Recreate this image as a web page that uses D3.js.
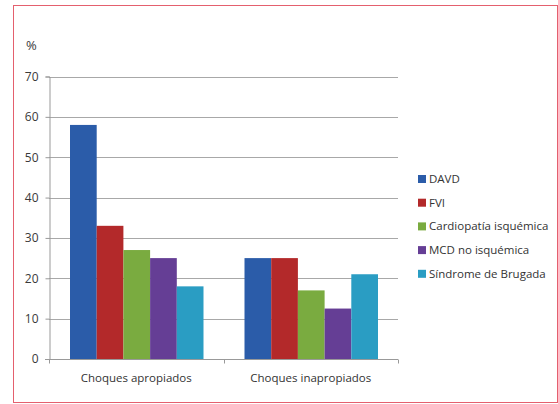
<!DOCTYPE html>
<html>
<head>
<meta charset="utf-8">
<script src="https://cdn.jsdelivr.net/npm/d3@7"></script>
<style>
  body { margin: 0; background: #fff; }
  svg text { font-family: "Open Sans", "Noto Sans", sans-serif; fill: #333; }
</style>
</head>
<body>
<div id="chart"></div>
<script>
// data
var categories = ["Choques apropiados", "Choques inapropiados"];
var seriesNames = ["DAVD", "FVI", "Cardiopatía isquémica", "MCD no isquémica", "Síndrome de Brugada"];
var davd = [58, 25];
var fvi = [33, 25];
var cardiopatia = [27, 17];
var mcd = [25, 12.5];
var brugada = [18, 21];
var yTicks = [0, 10, 20, 30, 40, 50, 60, 70];

var colors = ["#2b5ca9", "#b3292a", "#7aab40", "#653e95", "#2a9dc3"];
var seriesValues = [davd, fvi, cardiopatia, mcd, brugada];

var w = 558, h = 404;
var svg = d3.select("#chart").append("svg")
	.attr("width", w)
	.attr("height", h);

// outer frame
svg.append("rect")
	.attr("x", 13.5).attr("y", 5.5)
	.attr("width", 544).attr("height", 397)
	.style("fill", "none")
	.style("stroke", "#e4606e")
	.style("stroke-width", 1);

var plotLeft = 49, plotRight = 398, plotTop = 76.5, plotBottom = 359;

var y = d3.scaleLinear().domain([0, 70]).range([plotBottom, plotTop]);
var x0 = d3.scaleBand().domain(categories).range([plotLeft, plotRight]);
var x1 = d3.scaleBand().domain(seriesNames)
	.range([21, x0.bandwidth() - 20]);

// grid lines
svg.append("g").selectAll("line")
	.data(yTicks.slice(1))
	.enter().append("line")
	.attr("x1", plotLeft).attr("x2", plotRight)
	.attr("y1", function(d){ return Math.round(y(d)) + 0.5; })
	.attr("y2", function(d){ return Math.round(y(d)) + 0.5; })
	.style("stroke", "#a8a8a8")
	.style("stroke-width", 1);

// bars
var groups = svg.append("g").selectAll("g")
	.data(categories)
	.enter().append("g")
	.attr("transform", function(d){ return "translate(" + x0(d) + ",0)"; });

groups.selectAll("rect")
	.data(function(d, i){
		return seriesNames.map(function(s, j){ return {s: s, v: seriesValues[j][i], c: colors[j]}; });
	})
	.enter().append("rect")
	.attr("x", function(d){ return x1(d.s); })
	.attr("width", x1.bandwidth())
	.attr("y", function(d){ return y(d.v); })
	.attr("height", function(d){ return plotBottom - y(d.v); })
	.style("fill", function(d){ return d.c; });

// y axis
var yAxis = svg.append("g")
	.attr("transform", "translate(" + (plotLeft + 0.5) + ",0)")
	.call(d3.axisLeft(y).tickValues(yTicks).tickSize(4).tickPadding(7));
yAxis.select(".domain").style("stroke", "#999");
yAxis.selectAll(".tick line").style("stroke", "#999");
yAxis.selectAll("text")
	.style("font-size", "12px")
	.style("font-family", "'Open Sans', sans-serif")
	.style("fill", "#3a3a3a");

// x axis
var xAxis = svg.append("g")
	.attr("transform", "translate(0," + (plotBottom + 0.5) + ")");
xAxis.append("line")
	.attr("x1", plotLeft - 4).attr("x2", plotRight)
	.style("stroke", "#999");
xAxis.selectAll(".xt")
	.data([plotLeft, plotLeft + x0.bandwidth(), plotRight])
	.enter().append("line")
	.attr("x1", function(d){ return Math.round(d) + 0.5; })
	.attr("x2", function(d){ return Math.round(d) + 0.5; })
	.attr("y1", 0).attr("y2", 4)
	.style("stroke", "#999");
xAxis.selectAll("text")
	.data(categories)
	.enter().append("text")
	.attr("x", function(d){ return x0(d) + x0.bandwidth() / 2; })
	.attr("y", 22)
	.attr("text-anchor", "middle")
	.style("font-size", "11.5px")
	.text(function(d){ return d; });

// unit label
svg.append("text")
	.attr("x", 26).attr("y", 50)
	.style("font-size", "13px")
	.style("fill", "#3a3a3a")
	.text("%");

// legend
var legend = svg.append("g").selectAll("g")
	.data(seriesNames)
	.enter().append("g")
	.attr("transform", function(d, i){ return "translate(418," + (179 + i * 23.7) + ")"; });
legend.append("rect")
	.attr("x", 0).attr("y", -4)
	.attr("width", 8).attr("height", 8)
	.style("fill", function(d, i){ return colors[i]; });
legend.append("text")
	.attr("x", 11).attr("y", 4)
	.style("font-size", "11.5px")
	.text(function(d){ return d; });
</script>
</body>
</html>
